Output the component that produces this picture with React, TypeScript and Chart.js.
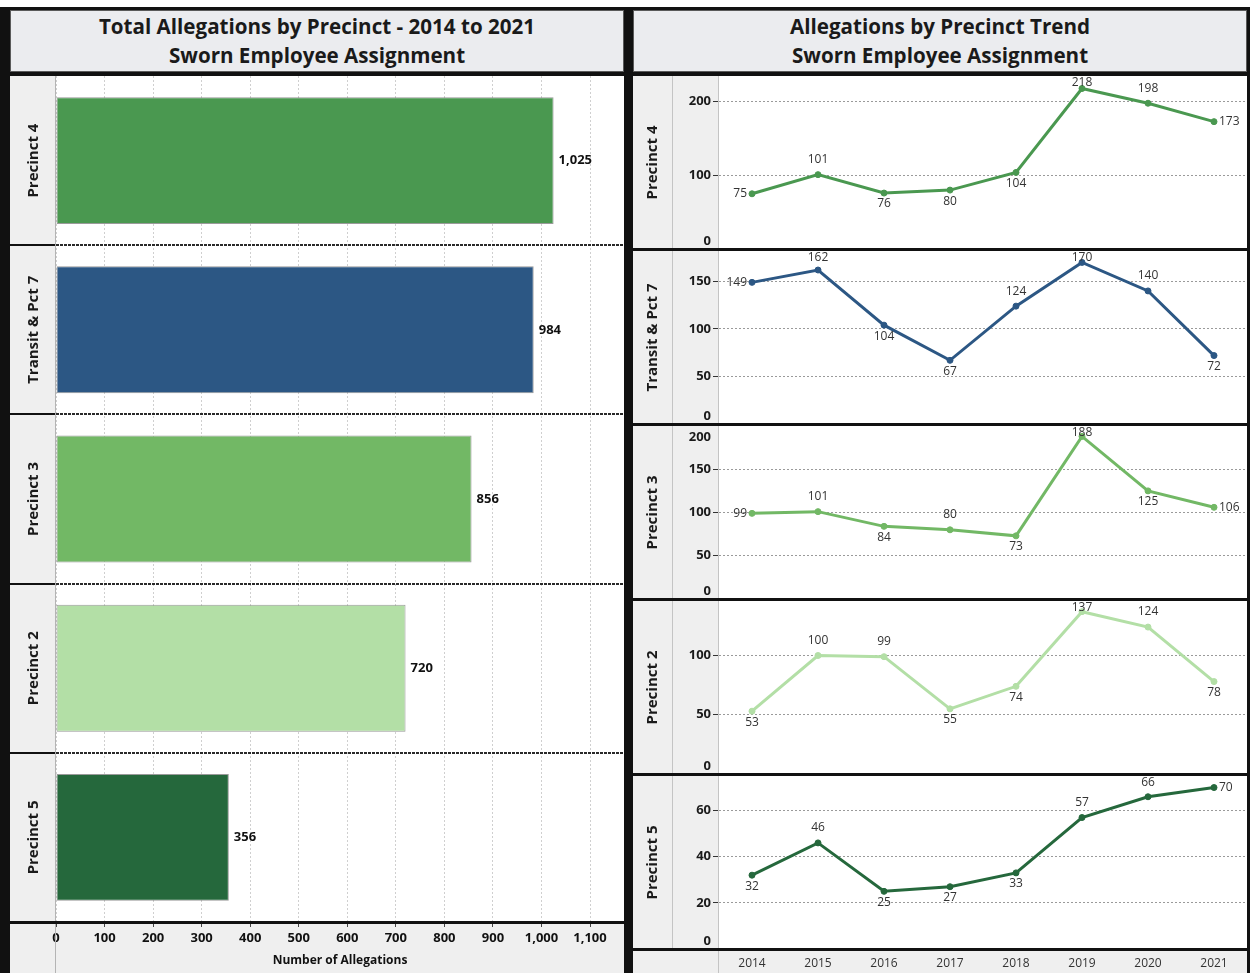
import React, { useEffect, useRef } from 'react';
import { Chart, registerables } from 'chart.js';

Chart.register(...registerables);

const FONT = '"Open Sans", "Noto Sans", sans-serif';

// Total allegations per precinct, 2014–2021
const precincts = ['Precinct 4', 'Transit & Pct 7', 'Precinct 3', 'Precinct 2', 'Precinct 5'];
const totalAllegations = [1025, 984, 856, 720, 356];
const precinctColors = ['#4a9850', '#2c5784', '#72b865', '#b3dfa6', '#25683c'];
const totalTickStep = 100;
const totalAxisMax = 1170;

// Allegations per year, one series per precinct
const years = ['2014', '2015', '2016', '2017', '2018', '2019', '2020', '2021'];
const precinct4ByYear = [75, 101, 76, 80, 104, 218, 198, 173];
const transit7ByYear = [149, 162, 104, 67, 124, 170, 140, 72];
const precinct3ByYear = [99, 101, 84, 80, 73, 188, 125, 106];
const precinct2ByYear = [53, 100, 99, 55, 74, 137, 124, 78];
const precinct5ByYear = [32, 46, 25, 27, 33, 57, 66, 70];
const trendSeries = [precinct4ByYear, transit7ByYear, precinct3ByYear, precinct2ByYear, precinct5ByYear];
const trendAxisMax = [235, 182, 200, 146, 75];
const trendTickStep = [100, 50, 50, 50, 20];

const ROW_H = 175;
const AXIS_H = 22;

const fmt = (v: number) => v.toLocaleString('en-US');

const totalsDecor = {
  id: 'totalsDecor',
  beforeDraw(chart: any) {
    const { ctx, chartArea: a } = chart;
    ctx.save();
    ctx.fillStyle = '#ffffff';
    ctx.fillRect(a.left, a.top, a.right - a.left, a.bottom - a.top);
    ctx.restore();
  },
  afterDraw(chart: any) {
    const { ctx, chartArea: a, width, height } = chart;
    const yScale = chart.scales.y;
    const meta = chart.getDatasetMeta(0);
    const labels: string[] = chart.data.labels;
    const values: number[] = chart.data.datasets[0].data;
    ctx.save();
    // label column / plot divider
    ctx.fillStyle = '#b4b4b4';
    ctx.fillRect(a.left - 1, a.top, 1, height - a.top);
    // row separators
    for (let i = 0; i < labels.length - 1; i++) {
      const y = Math.round((yScale.getPixelForValue(i) + yScale.getPixelForValue(i + 1)) / 2);
      ctx.fillStyle = '#111';
      ctx.fillRect(0, y - 1, a.left - 1, 2);
      ctx.strokeStyle = '#2a2a2a';
      ctx.lineWidth = 2;
      ctx.setLineDash([3, 1]);
      ctx.beginPath();
      ctx.moveTo(a.left, y);
      ctx.lineTo(a.right, y);
      ctx.stroke();
      ctx.setLineDash([]);
    }
    // axis baseline
    ctx.fillStyle = '#111';
    ctx.fillRect(0, a.bottom - 1, width, 3);
    meta.data.forEach((bar: any, i: number) => {
      // row label
      ctx.save();
      ctx.translate(a.left / 2 + 1, bar.y);
      ctx.rotate(-Math.PI / 2);
      ctx.font = `bold 15px ${FONT}`;
      ctx.fillStyle = '#1a1a1a';
      ctx.textAlign = 'center';
      ctx.textBaseline = 'middle';
      ctx.fillText(labels[i], 0, 0);
      ctx.restore();
      // value label
      ctx.font = `bold 13px ${FONT}`;
      ctx.fillStyle = '#111';
      ctx.textAlign = 'left';
      ctx.textBaseline = 'middle';
      ctx.fillText(fmt(values[i]), bar.x + 5, bar.y);
    });
    ctx.restore();
  },
};

// Where a point's value label goes: outside the ends, otherwise on the bend's outer side
function placement(values: number[], i: number, max: number) {
  const n = values.length;
  if (i === 0 || i === n - 1) {
    const neighbour = i === 0 ? values[1] : values[n - 2];
    if (Math.abs(neighbour - values[i]) / max > 0.15) return 'below';
    return i === 0 ? 'left' : 'right';
  }
  const mid = (values[i - 1] + values[i + 1]) / 2;
  return values[i] > mid ? 'above' : 'below';
}

const trendDecor = {
  id: 'trendDecor',
  beforeDraw(chart: any) {
    const { ctx, chartArea: a } = chart;
    ctx.save();
    ctx.fillStyle = '#ffffff';
    ctx.fillRect(a.left, a.top, a.right - a.left, a.bottom - a.top);
    ctx.restore();
  },
  afterDatasetsDraw(chart: any) {
    const { ctx, chartArea: a } = chart;
    const meta = chart.getDatasetMeta(0);
    const values: number[] = chart.data.datasets[0].data;
    const max = chart.scales.y.max;
    ctx.save();
    ctx.font = `12px ${FONT}`;
    ctx.fillStyle = '#333';
    meta.data.forEach((pt: any, i: number) => {
      const where = placement(values, i, max);
      const text = String(values[i]);
      if (where === 'left') {
        ctx.textAlign = 'right';
        ctx.textBaseline = 'middle';
        ctx.fillText(text, pt.x - 5, pt.y);
      } else if (where === 'right') {
        ctx.textAlign = 'left';
        ctx.textBaseline = 'middle';
        ctx.fillText(text, pt.x + 5, pt.y);
      } else if (where === 'above') {
        ctx.textAlign = 'center';
        ctx.textBaseline = 'top';
        const top = Math.max(pt.y - 21, a.top + 1);
        ctx.fillText(text, pt.x, top);
      } else {
        ctx.textAlign = 'center';
        ctx.textBaseline = 'top';
        ctx.fillText(text, pt.x, pt.y + 5);
      }
    });
    ctx.restore();
  },
  afterDraw(chart: any, _args: any, opts: any) {
    const { ctx, chartArea: a, width, height } = chart;
    const y = chart.scales.y;
    ctx.save();
    // column dividers
    ctx.fillStyle = '#c4c4c4';
    ctx.fillRect(39, 0, 1, a.bottom);
    ctx.fillRect(a.left - 1, 0, 1, height);
    // y tick labels, kept inside the row
    ctx.font = `bold 13px ${FONT}`;
    ctx.fillStyle = '#1a1a1a';
    ctx.textAlign = 'right';
    ctx.textBaseline = 'middle';
    y.ticks.forEach((t: any) => {
      const py = Math.min(Math.max(y.getPixelForValue(t.value), a.top + 11), a.bottom - 8);
      ctx.fillText(fmt(t.value), a.left - 8, py);
    });
    // row label
    ctx.save();
    ctx.translate(20, (a.top + a.bottom) / 2);
    ctx.rotate(-Math.PI / 2);
    ctx.font = `bold 15px ${FONT}`;
    ctx.textAlign = 'center';
    ctx.fillText(opts.label, 0, 0);
    ctx.restore();
    // row separator
    ctx.fillStyle = '#111';
    ctx.fillRect(0, a.bottom - 1, width, 3);
    ctx.restore();
  },
};

function TotalsPanel() {
  const ref = useRef<HTMLCanvasElement>(null);
  useEffect(() => {
    const chart = new Chart(ref.current!, {
      type: 'bar',
      data: {
        labels: precincts,
        datasets: [
          {
            data: totalAllegations,
            backgroundColor: precinctColors,
            borderColor: 'rgba(120,120,120,0.75)',
            borderWidth: 1,
            borderSkipped: false,
            categoryPercentage: 0.75,
            barPercentage: 1,
          },
        ],
      },
      options: {
        indexAxis: 'y',
        animation: false,
        responsive: false,
        devicePixelRatio: 1,
        layout: { padding: 0, autoPadding: false },
        plugins: { legend: { display: false }, tooltip: { enabled: false } },
        scales: {
          x: {
            min: 0,
            max: totalAxisMax,
            ticks: {
              stepSize: totalTickStep,
              includeBounds: false,
              padding: 3,
              color: '#111',
              font: { family: FONT, size: 13, weight: 'bold' },
              callback: (v: any) => fmt(Number(v)),
            },
            grid: {
              color: '#cfcfcf',
              tickColor: '#444',
              tickLength: 5,
              tickBorderDash: [],
            },
            border: { display: false, dash: [2, 2] },
            title: {
              display: true,
              text: 'Number of Allegations',
              color: '#111',
              font: { family: FONT, size: 12, weight: 'bold' },
              padding: { top: 0, bottom: 5 },
            },
            afterFit: (s: any) => {
              s.height = 51;
            },
          },
          y: {
            ticks: { display: false },
            grid: { display: false },
            border: { display: false },
            afterFit: (s: any) => {
              s.width = 46;
            },
          },
        },
      } as any,
      plugins: [totalsDecor],
    });
    return () => chart.destroy();
  }, []);
  return (
    <div style={{ position: 'absolute', left: 10, top: 76, width: 614, height: 897, background: '#efefef' }}>
      <canvas ref={ref} width={614} height={897} style={{ display: 'block', width: 614, height: 897 }} />
    </div>
  );
}

function TrendRow({ index }: { index: number }) {
  const ref = useRef<HTMLCanvasElement>(null);
  const last = index === trendSeries.length - 1;
  const h = last ? ROW_H + AXIS_H : ROW_H;
  useEffect(() => {
    const color = precinctColors[index];
    const max = trendAxisMax[index];
    const hidden = (ctx: any) => !ctx.tick || ctx.tick.value <= 0 || ctx.tick.value >= max;
    const chart = new Chart(ref.current!, {
      type: 'line',
      data: {
        labels: years,
        datasets: [
          {
            data: trendSeries[index],
            borderColor: color,
            backgroundColor: color,
            pointBackgroundColor: color,
            pointBorderColor: color,
            borderWidth: 3,
            pointRadius: 3,
            pointBorderWidth: 1,
            tension: 0,
            clip: false,
          },
        ],
      },
      options: {
        animation: false,
        responsive: false,
        devicePixelRatio: 1,
        layout: { padding: { top: 0, bottom: last ? 0 : 2, left: 0, right: 0 }, autoPadding: false },
        plugins: {
          legend: { display: false },
          tooltip: { enabled: false },
          trendDecor: { label: precincts[index] },
        },
        scales: {
          x: {
            display: last,
            offset: true,
            grid: { display: false, drawTicks: false },
            border: { display: false },
            ticks: { padding: 7, color: '#333', maxRotation: 0, font: { family: FONT, size: 12 } },
            afterFit: (s: any) => {
              s.height = last ? AXIS_H + 2 : 0;
            },
          },
          y: {
            min: 0,
            max,
            ticks: { stepSize: trendTickStep[index], includeBounds: false, display: false },
            grid: {
              color: (ctx: any) => (hidden(ctx) ? 'rgba(0,0,0,0)' : '#9a9a9a'),
              tickColor: (ctx: any) => (hidden(ctx) ? 'rgba(0,0,0,0)' : '#333'),
              tickLength: 6,
              tickBorderDash: [],
            },
            border: { display: false, dash: [2, 2] },
            afterFit: (s: any) => {
              s.width = 86;
            },
          },
        },
      } as any,
      plugins: [trendDecor],
    });
    return () => chart.destroy();
  }, [index]);
  return (
    <div
      style={{
        position: 'absolute',
        left: 633,
        top: 76 + index * ROW_H,
        width: 614,
        height: h,
        background: '#efefef',
      }}
    >
      <canvas ref={ref} width={614} height={h} style={{ display: 'block', width: 614, height: h }} />
    </div>
  );
}

function Header({ left, lines }: { left: number; lines: string[] }) {
  return (
    <div
      style={{
        position: 'absolute',
        left,
        top: 10,
        width: 614,
        height: 62,
        boxSizing: 'border-box',
        border: '1px solid #5a5a5a',
        background: '#ebecef',
        color: '#1a1a1a',
        fontFamily: FONT,
        fontWeight: 700,
        fontSize: 20.6,
        lineHeight: '29px',
        textAlign: 'center',
        display: 'flex',
        flexDirection: 'column',
        justifyContent: 'center',
      }}
    >
      {lines.map((l) => (
        <div key={l}>{l}</div>
      ))}
    </div>
  );
}

export default function App() {
  return (
    <div
      style={{
        position: 'fixed',
        left: 0,
        top: 0,
        width: 1250,
        height: 973,
        background: '#ffffff',
        overflow: 'hidden',
      }}
    >
      <div style={{ position: 'absolute', left: 0, top: 7, width: 1250, height: 966, background: '#111' }} />
      <Header left={10} lines={['Total Allegations by Precinct - 2014 to 2021', 'Sworn Employee Assignment']} />
      <Header left={633} lines={['Allegations by Precinct Trend', 'Sworn Employee Assignment']} />
      <TotalsPanel />
      {trendSeries.map((_, i) => (
        <TrendRow key={i} index={i} />
      ))}
    </div>
  );
}
